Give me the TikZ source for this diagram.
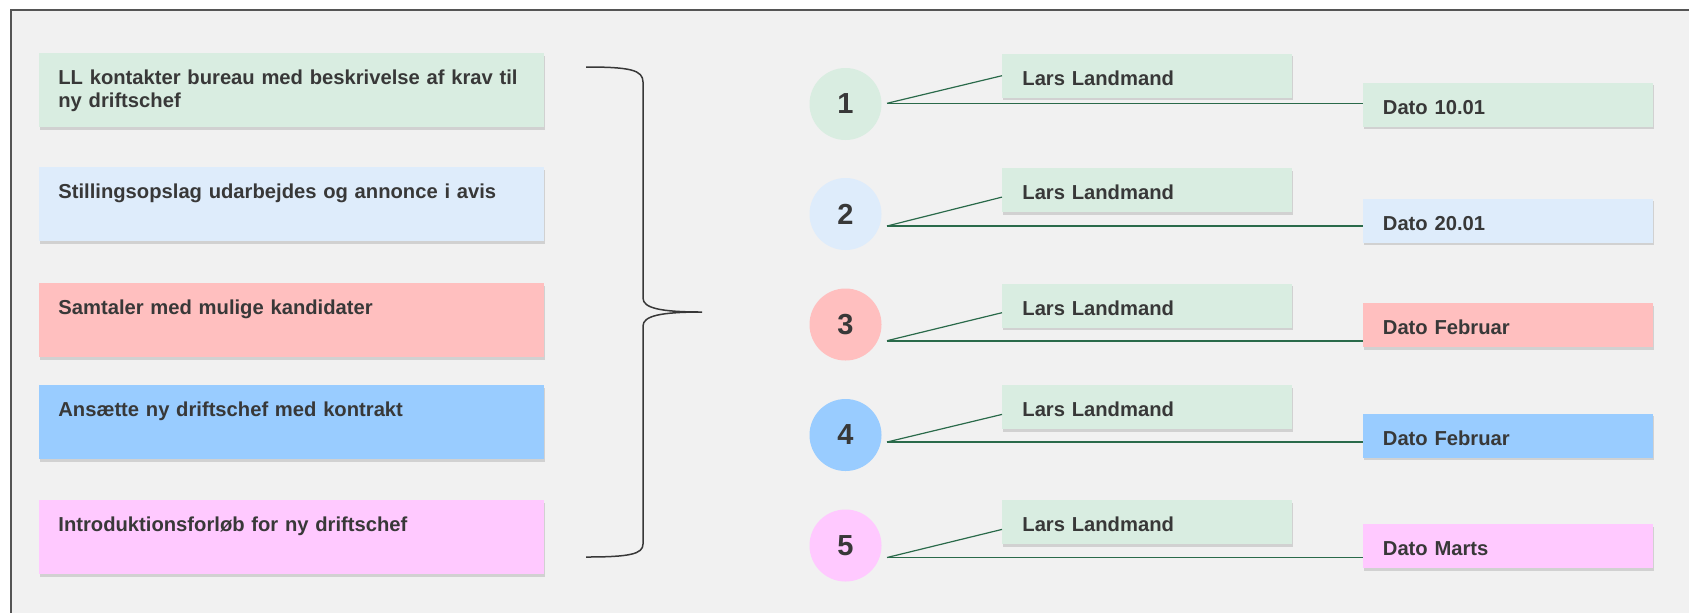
\documentclass[tikz,border=0pt]{standalone}
\usepackage{fontspec}
\setmainfont{Liberation Sans}
\usetikzlibrary{shadows}
\definecolor{bg}{HTML}{F1F1F1}
\definecolor{rim}{HTML}{555555}
\definecolor{ink}{HTML}{383838}
\definecolor{mint}{HTML}{D9EDE1}
\definecolor{sky}{HTML}{DEECFB}
\definecolor{rose}{HTML}{FFBFBF}
\definecolor{azure}{HTML}{99CCFF}
\definecolor{lilac}{HTML}{FFC9FF}
\definecolor{wire}{HTML}{2A6A4A}
\tikzset{
  card/.style={rectangle, anchor=north west, align=left, text=ink, font=\fontsize{10.1}{11.65}\selectfont\bfseries, drop shadow={shadow xshift=0.5pt, shadow yshift=-1.2pt, opacity=0.25, fill=black!55}},
  task/.style={card, text width=233.5pt, inner xsep=9.5pt, inner ysep=8.35pt, text height=7.25pt, text depth=13pt},
  tag/.style={card, text width=125pt, inner xsep=10pt, inner ysep=0pt, minimum height=22pt, text height=9.5pt, text depth=0pt},
  num/.style={circle, minimum size=36pt, inner sep=0pt, text=ink, font=\fontsize{14.5}{16}\selectfont\bfseries},
  link/.style={wire, line width=0.8pt},
  slant/.style={wire, line width=0.6pt}
}
\begin{document}
\begin{tikzpicture}[x=0.5pt, y=-0.5pt]
    \useasboundingbox (0,0) rectangle (1689,612);
    \fill[white] (0,0) rectangle (1689,612);
    \filldraw[fill=bg, draw=rim, line width=1pt] (11,10) rectangle (1720,650);

    % Tasks
    \node[task, fill=mint] (task1) at (39,53) {\mbox{LL kontakter bureau med beskrivelse af krav til}\\ny driftschef};
    \node[task, fill=sky] (task2) at (39,167) {Stillingsopslag udarbejdes og annonce i avis};
    \node[task, fill=rose] (task3) at (39,283) {Samtaler med mulige kandidater};
    \node[task, fill=azure] (task4) at (39,385) {Ansætte ny driftschef med kontrakt};
    \node[task, fill=lilac] (task5) at (39,500) {Introduktionsforløb for ny driftschef};

    % Brace
    \draw[ink, line width=0.75pt] (586,67) .. controls (630,67) and (643,70) .. (643,82)
      -- (643,298) .. controls (643,308) and (660,312) .. (702,312)
      .. controls (660,312) and (643,316) .. (643,326)
      -- (643,544) .. controls (643,554) and (630,557) .. (586,557);

    % Steps
    \node[num, fill=mint] (step1) at (845.5,104) {1};
    \node[num, fill=sky] (step2) at (845.5,214) {2};
    \node[num, fill=rose] (step3) at (845.5,324.5) {3};
    \node[num, fill=azure] (step4) at (845.5,435) {4};
    \node[num, fill=lilac] (step5) at (845.5,545.5) {5};

    % Who
    \node[tag, fill=mint] (who1) at (1002,53.3) {Lars Landmand};
    \node[tag, fill=mint] (who2) at (1002,167.7) {Lars Landmand};
    \node[tag, fill=mint] (who3) at (1002,283.3) {Lars Landmand};
    \node[tag, fill=mint] (who4) at (1002,385) {Lars Landmand};
    \node[tag, fill=mint] (who5) at (1002,500) {Lars Landmand};

    % Dates
    \node[tag, fill=mint] (date1) at (1362.5,82.3) {Dato 10.01};
    \node[tag, fill=sky] (date2) at (1362.5,198.3) {Dato 20.01};
    \node[tag, fill=rose] (date3) at (1362.5,303) {Dato Februar};
    \node[tag, fill=azure] (date4) at (1362.5,413.3) {Dato Februar};
    \node[tag, fill=lilac] (date5) at (1362.5,524) {Dato Marts};

    % Lines
    \coordinate (root1) at (887,103.3);
    \coordinate (root2) at (887,226);
    \coordinate (root3) at (887,340.7);
    \coordinate (root4) at (887,442);
    \coordinate (root5) at (887,557.5);
    \draw[link] (root1) -- (root1 -| date1.west);
    \draw[link] (root2) -- (root2 -| date2.west);
    \draw[link] (root3) -- (root3 -| date3.west);
    \draw[link] (root4) -- (root4 -| date4.west);
    \draw[link] (root5) -- (root5 -| date5.west);
    \draw[slant] (root1) -- (who1.west);
    \draw[slant] (root2) -- ([yshift=-3.5pt]who2.west);
    \draw[slant] (root3) -- ([yshift=-3.5pt]who3.west);
    \draw[slant] (root4) -- ([yshift=-3.5pt]who4.west);
    \draw[slant] (root5) -- ([yshift=-3.5pt]who5.west);
\end{tikzpicture}
\end{document}
